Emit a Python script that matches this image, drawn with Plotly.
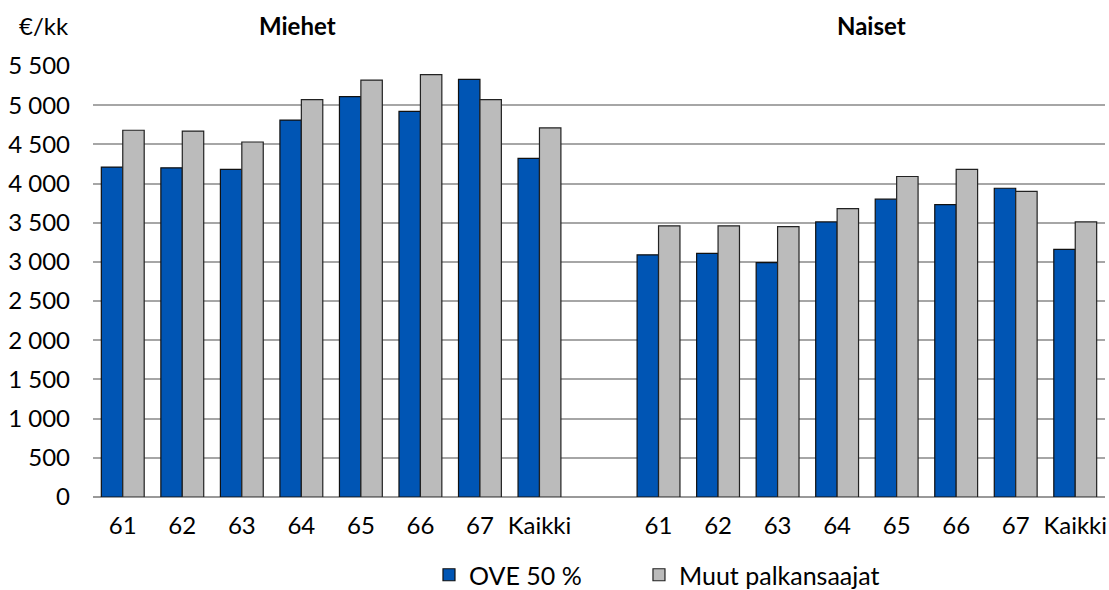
import plotly.graph_objects as go

# --- data ---
age_groups = ["61", "62", "63", "64", "65", "66", "67", "Kaikki"]
series_names = ["OVE 50 %", "Muut palkansaajat"]
miehet_ove = [4210, 4200, 4180, 4810, 5110, 4920, 5330, 4320]
miehet_muut = [4680, 4670, 4530, 5070, 5320, 5390, 5070, 4710]
naiset_ove = [3090, 3110, 2990, 3510, 3800, 3730, 3940, 3160]
naiset_muut = [3460, 3460, 3450, 3680, 4090, 4180, 3900, 3510]
group_titles = ["Miehet", "Naiset"]
y_ticks = [0, 500, 1000, 1500, 2000, 2500, 3000, 3500, 4000, 4500, 5000, 5500]

# positions: Miehet group, one empty slot, Naiset group
n = len(age_groups)
pos_m = list(range(n))
pos_n = [n + 1 + i for i in range(n)]
xpos = pos_m + pos_n
xlabels = age_groups + age_groups

FONT = "Lato, 'Open Sans', sans-serif"
BLUE = "#0055B4"
GRAY = "#BBBBBB"
FS = 24

fig = go.Figure()
fig.add_trace(go.Bar(
    x=xpos, y=miehet_ove + naiset_ove, name=series_names[0], legend="legend",
    marker=dict(color=BLUE, line=dict(color="#111111", width=1.2)),
))
fig.add_trace(go.Bar(
    x=xpos, y=miehet_muut + naiset_muut, name=series_names[1], legend="legend2",
    marker=dict(color=GRAY, line=dict(color="#222222", width=1.2)),
))

leg_common = dict(orientation="h", xanchor="left", y=-0.181, yanchor="middle",
                  font=dict(size=25), itemwidth=30, bgcolor="rgba(0,0,0,0)")

fig.update_layout(
    width=1109, height=590,
    margin=dict(l=93, r=4, t=66, b=93, autoexpand=False),
    paper_bgcolor="white", plot_bgcolor="white",
    separators=", ",
    font=dict(family=FONT, size=FS, color="#000000"),
    barmode="group", bargap=0.28, bargroupgap=0,
    showlegend=True,
    legend=dict(x=0.332, **leg_common),
    legend2=dict(x=0.5395, **leg_common),
    xaxis=dict(
        range=[-0.5, 2 * n + 0.5],
        tickmode="array", tickvals=xpos, ticktext=xlabels,
        showgrid=False, zeroline=False, showline=False,
        ticks="", ticklabelstandoff=12, automargin=False,
        tickfont=dict(size=FS),
    ),
    yaxis=dict(
        range=[0, 5500],
        tickmode="array", tickvals=y_ticks, tickformat=",d",
        showgrid=True, gridcolor="#A6A6A6", gridwidth=1.5,
        zeroline=True, zerolinecolor="#999999", zerolinewidth=2,
        showline=False, ticks="", ticklabelstandoff=22, automargin=False,
        tickfont=dict(size=FS),
    ),
    annotations=[
        dict(text="€/kk", xref="paper", yref="paper", x=-0.022, y=1.095,
             xanchor="right", yanchor="middle", showarrow=False, font=dict(size=FS)),
        dict(text="<b>%s</b>" % group_titles[0], xref="paper", yref="paper", x=0.2023, y=1.095,
             xanchor="center", yanchor="middle", showarrow=False, font=dict(size=FS)),
        dict(text="<b>%s</b>" % group_titles[1], xref="paper", yref="paper", x=0.7697, y=1.095,
             xanchor="center", yanchor="middle", showarrow=False, font=dict(size=FS)),
    ],
)

fig.write_html("out.html", config={"displayModeBar": False},
               post_script="document.body.style.margin='0';")
